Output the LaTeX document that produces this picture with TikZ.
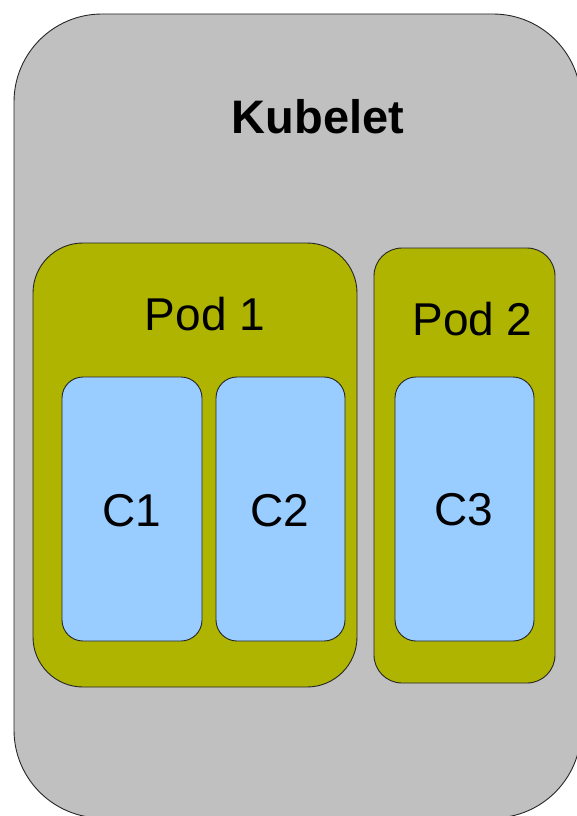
\documentclass[tikz,border=0pt]{standalone}
\usepackage{fontspec}
\setmainfont{Liberation Sans}
\definecolor{kubegray}{RGB}{192,192,192}
\definecolor{podgreen}{RGB}{174,180,0}
\definecolor{ctrblue}{RGB}{153,204,255}
\begin{document}
\begin{tikzpicture}[x=1pt,y=-1pt,line width=0.9pt,
  box/.style={draw=black!85,rectangle,inner sep=0pt},
  kubelet/.style={box,fill=kubegray,rounded corners=88pt,minimum width=567pt,minimum height=804pt},
  pod/.style={box,fill=podgreen},
  ctr/.style={box,fill=ctrblue,rounded corners=21pt,minimum height=264pt},
  big/.style={font=\fontsize{46}{55}\selectfont,anchor=base}]
\useasboundingbox (0,0) rectangle (577,816);
\clip (0,0) rectangle (577,816);
\node[kubelet] (kubelet) at (297.5,416) {};
\node[big,font=\fontsize{47}{56}\selectfont\bfseries] (kubeletlabel) at (318,133) {Kubelet};
% pods
\node[pod,rounded corners=50pt,minimum width=324pt,minimum height=444pt] (pod1) at (195,465) {};
\node[pod,rounded corners=28pt,minimum width=181pt,minimum height=435pt] (pod2) at (464.5,465.5) {};
\node[big] (pod1label) at (205,330) {Pod 1};
\node[big] (pod2label) at (472.5,335) {Pod 2};
% containers
\node[ctr,minimum width=140pt] (c1) at (132,509) {};
\node[ctr,minimum width=129pt] (c2) at (280.5,509) {};
\node[ctr,minimum width=139pt] (c3) at (464.5,509) {};
\node[big] (c1label) at (131.5,526) {C1};
\node[big] (c2label) at (280,526) {C2};
\node[big] (c3label) at (464,525) {C3};
\end{tikzpicture}
\end{document}
